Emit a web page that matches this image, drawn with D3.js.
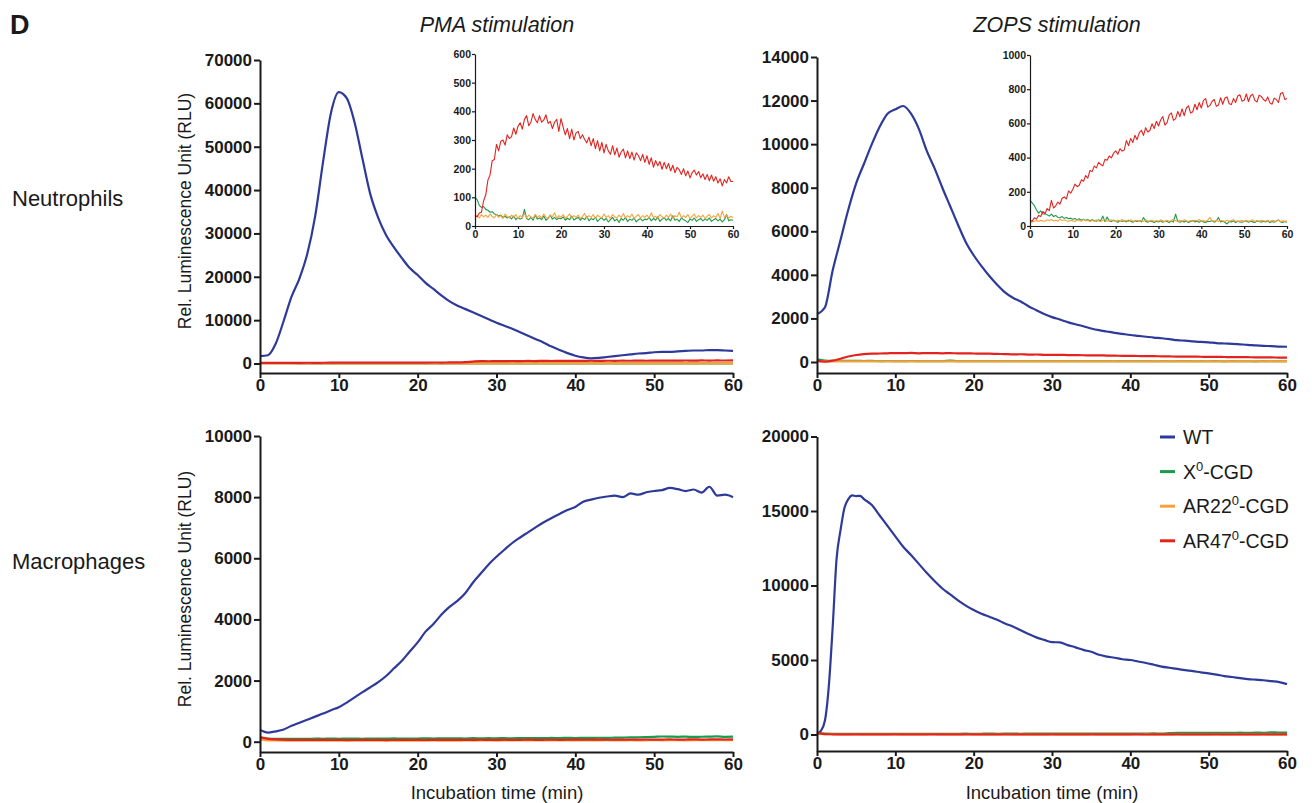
<!DOCTYPE html>
<html>
<head>
<meta charset="utf-8">
<script src="https://cdn.jsdelivr.net/npm/d3@7"></script>
<style>
  body { margin: 0; background: #fff; }
  svg { display: block; font-family: 'Liberation Sans', Arial, Helvetica, sans-serif; }
  .axis path, .axis line { stroke: #1a1a1a; }
  .axis text { font-weight: bold; fill: #1a1a1a; }
  .main .axis text { font-size: 17px; }
  .inset .axis text { font-size: 10.5px; }
  .label { fill: #1a1a1a; }
</style>
</head>
<body>
<div id="chart"></div>
<script>
// sampling grids (min)
var minutes = [0,1,2,3,4,5,6,7,8,9,10,11,12,13,14,15,16,17,18,19,20,21,22,23,24,25,26,27,28,29,
  30,31,32,33,34,35,36,37,38,39,40,41,42,43,44,45,46,47,48,49,50,51,52,53,54,55,56,57,58,59,60];
var halfMinutes = [0,0.5,1,1.5,2,2.5,3,3.5,4,4.5,5,5.5,6,6.5,7,7.5,8,8.5,9,9.5,
  10,10.5,11,11.5,12,12.5,13,13.5,14,14.5,15,15.5,16,16.5,17,17.5,18,18.5,19,19.5,
  20,20.5,21,21.5,22,22.5,23,23.5,24,24.5,25,25.5,26,26.5,27,27.5,28,28.5,29,29.5,
  30,30.5,31,31.5,32,32.5,33,33.5,34,34.5,35,35.5,36,36.5,37,37.5,38,38.5,39,39.5,
  40,40.5,41,41.5,42,42.5,43,43.5,44,44.5,45,45.5,46,46.5,47,47.5,48,48.5,49,49.5,
  50,50.5,51,51.5,52,52.5,53,53.5,54,54.5,55,55.5,56,56.5,57,57.5,58,58.5,59,59.5,60];
var zopsMacTime = [0,0.5,1,1.5,2,2.5,3,3.5,4,4.5,5,5.5,6,7,8,9,10,11,12,13,14,15,16,17,18,19,20,
  21,22,23,24,25,26,27,28,29,30,31,32,33,34,35,36,37,38,39,40,41,42,43,44,45,46,47,48,49,50,
  51,52,53,54,55,56,57,58,59,60];

var xTicks = [0, 10, 20, 30, 40, 50, 60];
var pmaNeuTicks = [0, 10000, 20000, 30000, 40000, 50000, 60000, 70000];
var zopsNeuTicks = [0, 2000, 4000, 6000, 8000, 10000, 12000, 14000];
var pmaMacTicks = [0, 2000, 4000, 6000, 8000, 10000];
var zopsMacTicks = [0, 5000, 10000, 15000, 20000];
var pmaInsetTicks = [0, 100, 200, 300, 400, 500, 600];
var zopsInsetTicks = [0, 200, 400, 600, 800, 1000];

var groups = ['WT', 'X0', 'AR22', 'AR47'];

// Neutrophils, PMA
var pmaNeuWT = [1700,1900,4600,9800,15400,19600,25300,34000,46500,57800,
  62600,61200,55600,47200,39000,33600,29600,26800,24300,22000,
  20400,18600,17200,15700,14400,13400,12600,11800,11000,10200,
  9400,8700,8000,7200,6400,5600,4800,3900,3100,2400,
  1800,1400,1200,1300,1500,1700,1900,2100,2300,2400,
  2600,2700,2700,2800,2900,3000,3000,3100,3100,3000,2900];
var pmaNeuX0 = [110,80,65,60,55,50,52,48,50,46,48,45,50,44,47,43,48,45,42,46,
  44,40,45,42,46,40,44,42,45,41,43,40,44,41,45,40,43,41,44,40,
  42,45,40,43,41,44,40,42,45,41,43,40,44,42,40,43,41,45,40,42,41];
var pmaNeuAR22 = [40,35,38,33,36,39,34,37,32,36,38,34,37,33,36,39,35,31,34,37,
  39,35,32,38,34,36,40,33,37,35,31,38,34,36,39,33,37,35,32,36,
  38,34,31,37,35,39,33,36,34,38,32,35,37,34,39,36,33,37,35,34,36];
var pmaNeuAR47 = [150,140,150,160,150,160,170,160,170,180,
  180,190,180,200,190,200,210,200,210,220,
  210,220,230,220,240,250,300,450,550,520,
  560,540,580,560,590,570,600,580,610,590,
  620,600,630,610,640,620,650,630,660,640,
  670,650,680,660,690,670,700,680,700,690,700];

// Neutrophils, ZOPS
var zopsNeuWT = [2200,2500,4200,5600,7000,8200,9100,10000,10800,11400,
  11600,11750,11400,10700,9700,8900,8000,7150,6300,5500,
  4900,4400,3950,3550,3200,2950,2780,2560,2380,2200,
  2060,1950,1830,1730,1640,1540,1460,1400,1340,1290,
  1240,1200,1160,1120,1090,1050,1000,980,950,920,
  900,870,850,830,810,790,760,740,730,710,700];
var zopsNeuX0 = [120,70,55,60,48,52,45,50,42,46,44,40,45,42,40,44,41,60,40,43,
  40,42,38,41,39,42,38,40,37,41,38,40,36,39,37,40,36,38,35,39,
  37,36,38,34,37,35,36,38,34,36,35,37,33,36,34,35,33,36,34,35,34];
var zopsNeuAR22 = [30,28,32,29,31,27,30,28,31,29,27,30,28,32,29,27,31,28,30,29,
  32,28,30,27,31,29,28,32,30,27,29,31,28,30,26,32,29,28,31,27,
  30,28,32,29,27,31,30,28,26,30,29,32,28,30,27,31,29,28,30,27,29];
var zopsNeuAR47 = [60,20,60,150,250,320,360,380,390,400,
  410,405,415,400,410,405,400,410,395,400,
  390,380,385,370,365,350,355,340,345,330,
  330,325,320,315,310,300,305,295,290,285,
  280,275,270,270,260,255,250,250,245,240,
  235,235,230,225,225,220,215,215,210,205,200];

// Macrophages, PMA
var pmaMacWT = [380,300,340,400,520,620,720,820,920,1030,
  1130,1280,1450,1620,1780,1950,2150,2400,2650,2950,
  3250,3600,3850,4150,4400,4600,4850,5200,5500,5800,
  6050,6280,6500,6680,6850,7020,7180,7320,7450,7580,
  7680,7850,7920,7980,8020,8050,8000,8120,8080,8160,
  8200,8230,8300,8260,8200,8250,8150,8340,8050,8080,8000];
var pmaMacX0 = [130,100,90,95,90,95,92,100,95,100,96,102,100,95,105,100,102,106,100,105,
  102,110,105,110,106,112,105,115,110,115,112,116,110,120,115,120,116,122,120,125,
  120,126,122,130,125,132,136,140,146,150,158,170,165,160,166,155,162,168,172,160,165];
var pmaMacAR22 = [70,45,40,36,38,34,36,33,35,32,34,36,33,35,32,34,36,33,35,38,
  34,36,40,35,38,36,40,37,39,42,38,40,43,39,41,44,40,42,45,41,
  43,46,42,44,47,43,45,48,44,46,49,45,47,50,46,48,51,47,49,52,48];
var pmaMacAR47 = [150,95,75,65,62,58,60,56,58,55,57,54,56,58,55,57,54,56,58,55,
  58,56,60,57,59,62,58,60,63,59,61,64,60,62,65,61,63,66,62,64,
  67,63,65,68,64,66,70,65,68,72,67,70,74,69,72,76,70,74,78,72,75];

// Macrophages, ZOPS
var zopsMacWT = [70,250,900,3200,7200,11800,13700,15200,15800,16050,16000,16020,15800,
  15400,14700,14000,13300,12600,12050,11450,10850,10300,9800,9400,9000,8650,8350,
  8100,7900,7700,7450,7250,7000,6750,6520,6350,6200,6180,6000,5850,5680,5550,5350,
  5230,5150,5050,5000,4900,4800,4680,4560,4480,4400,4320,4250,4170,4100,
  4020,3920,3860,3780,3720,3680,3640,3580,3520,3380];
var zopsMacX0 = [70,55,48,50,46,48,45,47,44,46,48,45,47,50,46,48,52,47,50,53,
  49,52,55,50,53,57,52,55,58,54,57,60,56,59,62,58,62,66,60,64,
  68,62,66,70,65,90,110,105,112,108,115,110,118,112,120,116,122,118,150,125,130];
var zopsMacAR22 = [40,25,18,15,14,16,13,15,12,14,16,13,15,12,14,17,13,15,12,16,
  14,12,15,13,16,14,12,15,13,14,16,12,14,15,13,16,12,14,15,13,
  14,16,12,15,13,14,16,13,15,12,14,16,13,15,12,14,13,16,14,15,14];
var zopsMacAR47 = [110,30,15,10,12,8,10,6,9,7,10,2,8,10,7,9,11,8,10,7,
  4,9,11,8,10,7,9,11,8,10,9,7,10,8,11,9,7,10,8,9,
  3,10,1,9,11,8,10,7,9,11,8,10,9,7,10,8,11,9,10,8,9];

// PMA inset (0.5 min)
var pmaInsetX0 = [100,92,72,65,68,58,55,48,50,42, 40,35,38,30,34,28,32,25,35,22,
  30,24,28,58,26,22,30,20,38,24, 28,22,35,20,26,38,24,30,22,28,
  25,32,20,27,22,35,21,26,30,20, 28,22,34,18,26,22,30,16,24,28,
  20,26,14,22,30,18,24,12,26,20, 30,16,24,20,28,14,22,26,18,24,
  22,30,18,26,20,32,16,24,28,20, 26,18,36,20,24,16,28,22,18,12,
  24,20,28,16,22,26,18,24,20,28, 16,22,26,18,24,14,22,40,18,22, 20];
var pmaInsetAR22 = [30,36,28,40,32,38,30,42,34,28, 40,30,36,26,42,32,28,38,30,40,
  26,36,30,44,28,38,32,26,40,30, 36,28,42,30,26,38,32,46,28,36,
  30,40,26,34,42,28,36,30,38,26, 34,44,28,36,30,40,26,38,32,28,
  42,30,36,26,40,32,28,38,30,44, 28,36,30,42,26,34,40,28,36,30,
  38,28,46,30,34,26,40,32,28,38, 30,42,26,36,32,48,28,36,30,40,
  26,34,42,28,36,30,38,26,34,40, 28,36,30,44,26,52,30,38,28,34, 30];
var pmaInsetAR47 = [38,32,45,48,88,108,160,178,228,232, 285,262,296,300,282,318,305,312,342,320,
  348,360,338,372,385,350,362,392,372,360, 385,362,370,388,358,365,340,362,372,330,
  375,345,318,340,305,338,300,325,330,305, 318,302,290,310,280,305,270,298,262,292,
  255,285,262,250,280,248,272,240,258,268, 238,262,235,258,230,255,246,228,250,222,
  245,215,238,205,228,210,225,198,222,200, 218,192,212,186,205,196,180,200,175,192,
  168,186,195,178,190,168,182,162,180,158, 178,156,172,150,165,140,162,150,172,155, 155];

// ZOPS inset (0.5 min)
var zopsInsetX0 = [150,135,120,95,75,88,70,72,65,58, 70,55,62,50,48,55,45,50,42,46,
  40,44,36,42,34,40,32,38,30,36, 32,28,36,30,58,26,52,30,26,34,
  28,22,32,26,30,24,34,28,22,30, 26,32,24,50,28,22,30,26,20,28,
  24,30,22,28,26,20,30,24,70,26, 22,28,24,30,20,26,32,24,28,22,
  30,24,20,28,26,32,22,30,50,24, 28,22,12,26,24,30,20,28,24,22,
  26,30,22,28,24,20,30,26,22,28, 24,30,20,26,22,28,36,24,20,26, 22];
var zopsInsetAR22 = [20,24,28,32,26,34,30,28,36,32, 38,30,34,28,40,32,36,30,28,34,
  30,26,36,32,28,38,30,34,26,32, 28,36,30,26,34,38,28,32,36,30,
  26,34,30,38,28,32,26,36,30,28, 34,28,32,26,36,30,28,34,26,32,
  28,36,30,26,34,28,32,40,30,26, 34,28,36,30,26,32,28,34,30,38,
  28,32,26,36,50,30,28,34,26,32, 30,26,34,28,32,36,26,30,28,34,
  26,32,28,30,36,26,32,28,34,30, 28,34,26,32,30,28,34,26,30,28, 30];
var zopsInsetAR47 = [35,28,48,40,62,55,85,72,102,90, 150,105,118,140,128,162,170,158,205,192,
  215,245,230,238,270,262,295,280,325,318, 350,340,372,360,352,390,385,410,398,425,
  440,420,452,438,445,500,470,512,488,530, 505,545,560,530,575,550,560,598,570,612,
  585,620,640,590,605,650,662,618,628,670, 640,685,645,690,702,660,668,712,680,722,
  690,735,745,695,705,728,740,700,708,750, 712,748,755,715,710,745,722,760,768,730,
  735,772,728,762,770,735,725,765,758,740, 730,755,720,712,748,740,722,775,780,740, 745];

var colours = { WT: '#2e3a99', X0: '#1a9a4a', AR22: '#f9a23c', AR47: '#e2231f' };

var svg = d3.select('#chart').append('svg')
    .attr('width', 1312)
    .attr('height', 803);

var panels = [
  { cls: 'main', left: 260, right: 733, zero: 363.5, top: 60, base: 373, max: 70000, ticks: pmaNeuTicks,
    tick: 6, pad: 2, xtick: 5, xpad: 1, width: 2, lw: 2.2, curve: d3.curveMonotoneX,
    series: [[minutes, pmaNeuWT], [minutes, pmaNeuX0], [minutes, pmaNeuAR22], [minutes, pmaNeuAR47]] },
  { cls: 'main', left: 817, right: 1287, zero: 362, top: 57, base: 373, max: 14000, ticks: zopsNeuTicks,
    tick: 6, pad: 2, xtick: 5, xpad: 1, width: 2, lw: 2.2, curve: d3.curveMonotoneX,
    series: [[minutes, zopsNeuWT], [minutes, zopsNeuX0], [minutes, zopsNeuAR22], [minutes, zopsNeuAR47]] },
  { cls: 'main', left: 260, right: 733, zero: 741.7, top: 436, base: 752, max: 10000, ticks: pmaMacTicks,
    tick: 6, pad: 2, xtick: 5, xpad: 1, width: 2, lw: 2.2, curve: d3.curveMonotoneX,
    series: [[minutes, pmaMacWT], [minutes, pmaMacX0], [minutes, pmaMacAR22], [minutes, pmaMacAR47]] },
  { cls: 'main', left: 817, right: 1287, zero: 734.5, top: 436.5, base: 751, max: 20000, ticks: zopsMacTicks,
    tick: 6, pad: 2, xtick: 5, xpad: 1, width: 2, lw: 2.2, curve: d3.curveMonotoneX,
    series: [[zopsMacTime, zopsMacWT], [minutes, zopsMacX0], [minutes, zopsMacAR22], [minutes, zopsMacAR47]] },
  { cls: 'inset', left: 475, right: 733, zero: 226, top: 54, base: 226, max: 600, ticks: pmaInsetTicks,
    tick: 3, pad: 1, xtick: 3, xpad: 2, width: 1.2, lw: 1.1, curve: d3.curveLinear,
    series: [[halfMinutes, pmaInsetX0], [halfMinutes, pmaInsetAR22], [halfMinutes, pmaInsetAR47]],
    keys: ['X0', 'AR22', 'AR47'] },
  { cls: 'inset', left: 1030, right: 1287, zero: 226, top: 55, base: 226, max: 1000, ticks: zopsInsetTicks,
    tick: 3, pad: 1, xtick: 3, xpad: 2, width: 1.2, lw: 1.1, curve: d3.curveLinear,
    series: [[halfMinutes, zopsInsetX0], [halfMinutes, zopsInsetAR22], [halfMinutes, zopsInsetAR47]],
    keys: ['X0', 'AR22', 'AR47'] }
];

panels.forEach(drawPanel);

function drawPanel(p) {
  var x = d3.scaleLinear().domain([0, 60]).range([p.left, p.right]);
  var y = d3.scaleLinear().domain([0, p.max]).range([p.zero, p.top]);
  // y axis runs down to the offset x axis
  var yAxisScale = d3.scaleLinear().domain([y.invert(p.base), p.max]).range([p.base, p.top]);

  var g = svg.append('g').attr('class', p.cls);

  var keys = p.keys || groups;
  p.series.forEach(function(s, i) {
    var line = d3.line()
        .x(function(d, j) { return x(s[0][j]); })
        .y(function(d) { return y(d); })
        .curve(p.curve);
    g.append('path')
        .datum(s[1])
        .attr('d', line)
        .style('fill', 'none')
        .style('stroke', colours[keys[i]])
        .style('stroke-width', p.lw)
        .style('stroke-linejoin', 'round');
  });

  g.append('g')
      .attr('class', 'axis')
      .attr('transform', 'translate(0,' + p.base + ')')
      .call(d3.axisBottom(x).tickValues(xTicks).tickSize(p.xtick).tickSizeOuter(0).tickPadding(p.xpad))
      .selectAll('path, line').style('stroke-width', p.width);

  g.append('g')
      .attr('class', 'axis')
      .attr('transform', 'translate(' + p.left + ',0)')
      .call(d3.axisLeft(yAxisScale).tickValues(p.ticks).tickSize(p.tick).tickSizeOuter(0)
        .tickPadding(p.pad).tickFormat(d3.format('d')))
      .selectAll('path, line').style('stroke-width', p.width);
}

// Titles and labels
svg.append('text').attr('class', 'label').attr('x', 10).attr('y', 34)
    .style('font-size', '27px').style('font-weight', 'bold').text('D');

svg.append('text').attr('class', 'label').attr('x', 497).attr('y', 32)
    .style('font-size', '21.5px').style('font-style', 'italic').style('text-anchor', 'middle')
    .text('PMA stimulation');
svg.append('text').attr('class', 'label').attr('x', 1057).attr('y', 32)
    .style('font-size', '21.5px').style('font-style', 'italic').style('text-anchor', 'middle')
    .text('ZOPS stimulation');

svg.append('text').attr('class', 'label').attr('x', 12).attr('y', 206)
    .style('font-size', '22px').text('Neutrophils');
svg.append('text').attr('class', 'label').attr('x', 12).attr('y', 569)
    .style('font-size', '22px').text('Macrophages');

[211, 589].forEach(function(cy) {
  svg.append('text').attr('class', 'label')
      .attr('transform', 'translate(191,' + cy + ') rotate(-90)')
      .style('font-size', '17.5px').style('text-anchor', 'middle')
      .text('Rel. Luminescence Unit (RLU)');
});

[497, 1052].forEach(function(cx) {
  svg.append('text').attr('class', 'label').attr('x', cx).attr('y', 799)
      .style('font-size', '18.5px').style('text-anchor', 'middle')
      .text('Incubation time (min)');
});

// Legend
var legendNames = [['WT', ''], ['X', '0', '-CGD'], ['AR22', '0', '-CGD'], ['AR47', '0', '-CGD']];
var legend = svg.selectAll('.legend')
    .data(groups)
  .enter().append('g')
    .attr('class', 'legend')
    .attr('transform', function(d, i) { return 'translate(1160,' + (437 + i * 34.6) + ')'; });

legend.append('line')
    .attr('x1', 0).attr('x2', 15)
    .style('stroke', function(d) { return colours[d]; })
    .style('stroke-width', 3);

var lt = legend.append('text')
    .attr('class', 'label')
    .attr('x', 23).attr('dy', '0.36em')
    .style('font-size', '19.5px');
lt.append('tspan').text(function(d, i) { return legendNames[i][0]; });
lt.filter(function(d, i) { return i > 0; }).each(function(d, i) {
  var t = d3.select(this);
  t.append('tspan').attr('dy', -8).style('font-size', '13px').text(legendNames[i + 1][1]);
  t.append('tspan').attr('dy', 8).text(legendNames[i + 1][2]);
});
</script>
</body>
</html>
